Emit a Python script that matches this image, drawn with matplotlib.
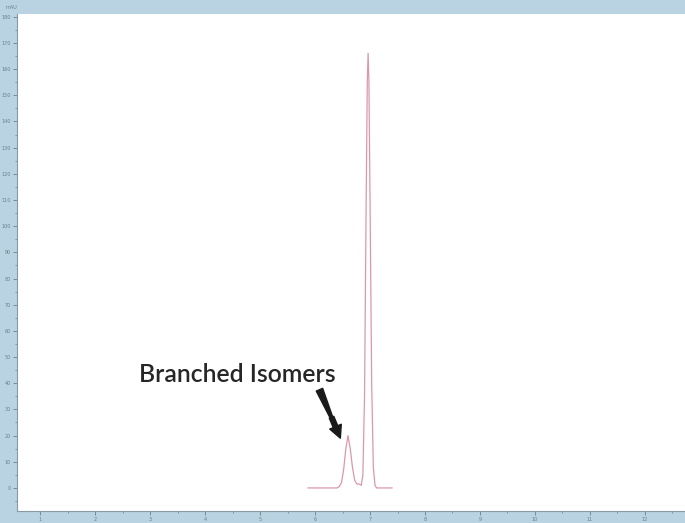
import matplotlib.pyplot as plt
from matplotlib.ticker import MultipleLocator

# chromatogram trace (time in min, signal in mAU)
time_min = [5.87, 6.40, 6.44, 6.48, 6.52, 6.56, 6.60, 6.64, 6.68, 6.72, 6.76,
            6.80, 6.84, 6.87, 6.90, 6.93, 6.95, 6.965, 6.98, 7.00, 7.03,
            7.06, 7.09, 7.12, 7.40]
signal_mau = [0, 0, 0.5, 2, 7, 15, 20, 15, 8, 3, 1.5,
              1.5, 1, 5, 35, 110, 155, 166, 155, 110, 40,
              8, 1, 0, 0]

x_ticks = list(range(1, 13))
y_ticks = list(range(0, 181, 10))

label_text = "Branched Isomers"
label_pos = (4.58, 40.5)
arrow_start = (6.06, 38.5)
arrow_end = (6.46, 19)

bg = "#b9d3e2"
fig = plt.figure(figsize=(6.85, 5.23), dpi=100, facecolor=bg)
ax = fig.add_axes([0.025, 0.023, 0.975, 0.950])
ax.set_facecolor("white")

ax.plot(time_min, signal_mau, color="#dc97ab", lw=0.9)

ax.set_xlim(0.58, 12.73)
ax.set_ylim(-8.8, 181)
ax.set_xticks(x_ticks)
ax.set_yticks(y_ticks)
ax.yaxis.set_minor_locator(MultipleLocator(5))
ax.xaxis.set_minor_locator(MultipleLocator(0.5))
ax.tick_params(axis="both", which="major", labelsize=3.5, colors="#6b7f8c",
               length=3, width=0.6, pad=1.5)
ax.tick_params(axis="both", which="minor", length=1.5, width=0.5, colors="#6b7f8c")
for side in ["top", "right"]:
    ax.spines[side].set_visible(False)
for side in ["left", "bottom"]:
    ax.spines[side].set_color("#8a9aa5")
    ax.spines[side].set_linewidth(0.8)

fig.text(0.008, 0.985, "mAU", fontsize=3.5, color="#6b7f8c", va="center")

ax.text(label_pos[0], label_pos[1], label_text, fontsize=17.8, family="Lato",
        weight="semibold", ha="center", va="baseline", color="#262626")
# tapered arrow: thin wedge tail plus a filled head
ax.annotate("", xy=arrow_end, xytext=arrow_start,
            arrowprops=dict(arrowstyle="wedge,tail_width=0.5,shrink_factor=0.5",
                            facecolor="#1a1a1a", edgecolor="#1a1a1a"))
ax.annotate("", xy=arrow_end, xytext=(6.30, 27),
            arrowprops=dict(arrowstyle="simple,head_length=0.9,head_width=0.9,tail_width=0.35",
                            facecolor="#1a1a1a", edgecolor="#1a1a1a", shrinkA=0, shrinkB=0))

fig.savefig("out.png", dpi=100, facecolor=bg)
